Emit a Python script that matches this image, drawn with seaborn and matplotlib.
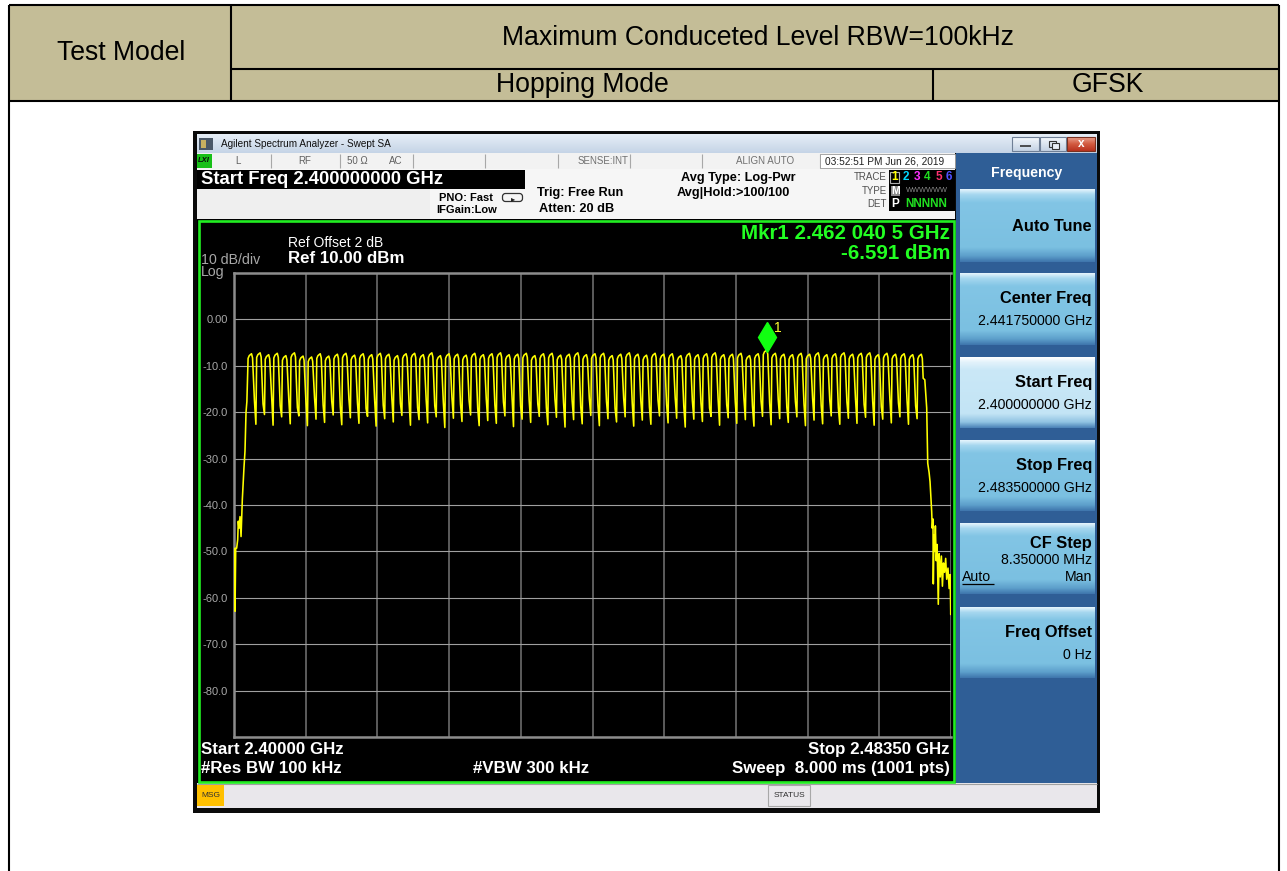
import numpy as np
import pandas as pd
import matplotlib
matplotlib.use("Agg")
import matplotlib.pyplot as plt
from matplotlib.patches import Rectangle, FancyBboxPatch
from matplotlib.colors import to_rgb
from matplotlib import transforms
import seaborn as sns

sns.set_style("white")
plt.rcParams["font.family"] = ["Liberation Sans", "DejaVu Sans"]

# ---------------------------------------------------------------- data
# 79 hopping channels, 1 MHz apart
channel_mhz = list(range(2402, 2481))

# max-hold peak of every channel (dBm)
peak_dbm = [
    -7.4, -7.2, -7.6, -7.3, -7.8, -7.2, -7.9, -8.1, -7.4, -7.9,
    -7.5, -7.3, -7.7, -7.4, -7.6, -7.3, -7.5, -7.8, -7.4, -7.3,
    -7.6, -7.2, -7.8, -7.4, -7.5, -7.7, -7.3, -7.6, -7.4, -7.2,
    -7.6, -7.5, -7.3, -7.8, -7.4, -7.3, -7.7, -7.5, -7.2, -7.6,
    -7.4, -7.3, -7.8, -7.5, -7.2, -7.5, -7.7, -7.3, -7.5, -7.4,
    -7.8, -7.3, -7.6, -7.4, -7.2, -7.6, -7.5, -7.3, -7.8, -7.4,
    -6.591, -7.3, -7.5, -7.6, -7.3, -7.5, -7.2, -7.6, -7.4, -7.2,
    -7.5, -7.3, -7.2, -7.6, -7.3, -7.5, -7.4, -7.6, -7.5,
]

# level of the falling shoulder of each channel (dBm)
shoulder_dbm = [
    -17.5, -18.2, -16.8, -18.6, -17.2, -19.0, -17.8, -16.9, -18.4, -17.6,
    -18.8, -17.1, -18.0, -19.2, -17.4, -18.5, -16.9, -18.1, -17.7, -19.0,
    -17.3, -18.6, -17.9, -16.8, -18.3, -17.5, -19.1, -17.2, -18.4, -17.8,
    -16.9, -18.7, -17.6, -18.2, -19.0, -17.3, -18.0, -17.5, -18.8, -17.1,
    -18.4, -17.7, -19.2, -17.0, -18.1, -17.6, -18.9, -17.4, -18.3, -16.9,
    -18.6, -17.5, -18.0, -19.1, -17.2, -18.4, -17.8, -16.8, -18.7, -17.6,
    -18.1, -17.3, -18.9, -17.7, -18.2, -16.9, -18.5, -17.4, -19.0, -17.8,
    -17.2, -18.3, -17.6, -18.8, -17.1, -18.0, -17.5, -18.6, -17.9,
]

# deepest point between neighbouring channels (dBm)
trough_dbm = [
    -22.6, -20.5, -22.8, -21.0, -22.5, -20.8, -22.9, -21.5, -22.2, -20.6,
    -22.7, -21.2, -22.4, -20.9, -23.0, -21.4, -22.1, -20.7, -22.8, -21.6,
    -22.3, -21.0, -23.3, -21.3, -22.0, -20.6, -22.9, -21.8, -22.4, -20.8,
    -23.1, -21.5, -22.2, -20.9, -22.7, -21.1, -23.2, -21.6, -22.5, -20.7,
    -22.9, -21.4, -22.1, -21.0, -23.0, -21.7, -22.6, -20.8, -22.3, -21.3,
    -23.2, -21.5, -22.0, -20.9, -22.8, -21.2, -22.4, -21.6, -23.0, -20.9,
    -22.7, -21.4, -22.2, -21.0, -22.9, -21.7, -22.5, -20.8, -22.6, -21.3,
    -22.4, -21.1, -22.8, -21.5, -22.3, -21.0, -22.6, -21.4,
]

# band-edge skirts
lower_edge_mhz = [2400.00, 2400.03, 2400.08, 2400.12, 2400.20, 2400.31, 2400.43,
                  2400.50, 2400.58, 2400.70, 2400.82, 2400.97, 2401.16, 2401.28,
                  2401.40, 2401.50]
lower_edge_dbm = [-49.3, -52.8, -49.5, -62.9, -49.3, -49.3, -47.5,
                  -43.5, -45.0, -42.5, -46.8, -38.8, -32.0, -28.4,
                  -20.0, -17.7]
upper_edge_mhz = [2480.45, 2480.67, 2480.79, 2480.95, 2481.06, 2481.25, 2481.32,
                  2481.40, 2481.44, 2481.52, 2481.60, 2481.68, 2481.78, 2481.88,
                  2482.02, 2482.12, 2482.25, 2482.38, 2482.50, 2482.62, 2482.75,
                  2482.88, 2483.00, 2483.15, 2483.28, 2483.40, 2483.47, 2483.50]
upper_edge_dbm = [-13.0, -19.1, -31.0, -33.0, -35.0, -41.4, -45.0,
                  -43.0, -57.0, -46.5, -50.0, -44.5, -52.0, -48.5,
                  -61.4, -50.5, -55.5, -51.0, -57.5, -52.5, -54.5,
                  -51.5, -56.0, -53.6, -58.0, -55.0, -63.6, -61.0]

marker_mhz = 2462.0405
marker_dbm = -6.591

ytick_vals = [10, 0, -10, -20, -30, -40, -50, -60, -70, -80, -90]
ytick_text = ["", "0.00", "-10.0", "-20.0", "-30.0", "-40.0", "-50.0",
              "-60.0", "-70.0", "-80.0", ""]
f_start, f_stop = 2400.0, 2483.5

# ---------------------------------------------------------------- trace
verts = list(zip(lower_edge_mhz, lower_edge_dbm))
last = len(channel_mhz) - 1
for k, (f, pk, sh) in enumerate(zip(channel_mhz, peak_dbm, shoulder_dbm)):
    if k > 0:
        verts.append((f - 0.45, trough_dbm[k - 1]))
    verts += [(f - 0.36, pk - 1.0), (f - 0.22, pk - 0.4), (f + 0.04, pk),
              (f + 0.16, pk - 0.9), (f + 0.26, (pk + sh) / 2)]
    if k < last:
        verts.append((f + 0.38, sh))
verts += list(zip(upper_edge_mhz, upper_edge_dbm))
trace = pd.DataFrame(verts, columns=["freq_mhz", "level_dbm"])

# ---------------------------------------------------------------- canvas
W, H = 1287, 871
fig = plt.figure(figsize=(W / 100, H / 100), dpi=100)
fig.patch.set_facecolor("white")
bg = fig.add_axes([0, 0, 1, 1], zorder=0)
bg.axis("off")


def rect(x0, y0, x1, y1, fc, ec="none", lw=0.0, z=1.0):
    bg.add_patch(Rectangle((x0, y0), x1 - x0, y1 - y0, facecolor=fc,
                           edgecolor=ec, linewidth=lw, zorder=z))


def line(xs, ys, color="black", lw=1.0, z=3.0):
    bg.plot(xs, ys, color=color, lw=lw, zorder=z, solid_capstyle="butt")


def txt(x, y, s, size, color="black", weight="normal", ha="left", z=10, **kw):
    bg.text(x, y, s, fontsize=size, color=color, fontweight=weight,
            ha=ha, va="center", zorder=z, **kw)


def grad(x0, y0, x1, y1, stops, z=1.0):
    pos = np.linspace(0, 1, 96)
    ps = [p for p, _ in stops]
    cols = np.array([to_rgb(c) for _, c in stops])
    img = np.stack([np.interp(pos, ps, cols[:, i]) for i in range(3)], axis=1)
    bg.imshow(img[:, None, :], extent=(x0, x1, y1, y0), aspect="auto",
              interpolation="bilinear", zorder=z)


# ---------------------------------------------------------------- table
tan = "#C4BD97"
rect(9, 5, 1279, 101, tan, z=0.5)
lw_t = 1.5
line([9, 1279], [5, 5], lw=lw_t)
line([9, 1279], [101, 101], lw=lw_t)
line([9, 9], [5, 871], lw=lw_t)
line([1279, 1279], [5, 871], lw=lw_t)
line([231, 231], [5, 101], lw=lw_t)
line([231, 1279], [69, 69], lw=lw_t)
line([933, 933], [69, 101], lw=lw_t)
txt(121, 53, "Test Model", 19.2, ha="center")
txt(758, 38, "Maximum Conduceted Level RBW=100kHz", 19.2, ha="center")
txt(582, 85, "Hopping Mode", 19.2, ha="center")
txt(1108, 85, "GFSK", 19.2, ha="center")

# ---------------------------------------------------------------- analyzer window
rect(193, 131, 1100, 813, "#0a0a0a", z=0.8)

# title bar
grad(197, 134, 1097, 153, [(0, "#e6eef7"), (1, "#c5d4e6")], z=1)
rect(199, 138, 213, 150, "#4a5868", z=2)
rect(201, 140, 206, 148, "#c8b060", z=2.1)
txt(221, 144, "Agilent Spectrum Analyzer - Swept SA", 7.2, color="#101010")
for x0, x1 in [(1012, 1039), (1040, 1066)]:
    grad(x0, 137, x1, 151, [(0, "#f4f8fc"), (1, "#c4d2e4")], z=2)
    rect(x0, 137, x1, 151, "none", ec="#6f7f96", lw=0.8, z=2.2)
line([1020, 1031], [146, 146], color="#333333", lw=1.2, z=3)
rect(1049, 141, 1056, 147, "none", ec="#333333", lw=0.8, z=3)
rect(1052, 143, 1059, 149, "#e8eef6", ec="#333333", lw=0.8, z=3.1)
grad(1067, 137, 1095, 151, [(0, "#eaa28f"), (0.5, "#d25a40"), (1, "#b8321f")], z=2)
rect(1067, 137, 1095, 151, "none", ec="#7a3020", lw=0.8, z=2.2)
txt(1081, 144, "x", 8.5, color="white", weight="bold", ha="center")

# status row
rect(197, 153, 955, 169, "#f2f2f2", z=1)
rect(197, 154, 212, 168, "#18c018", z=2)
txt(198, 161, "LXI", 5.5, color="#0a0a0a", weight="bold", style="italic")
for xs in [271, 340, 413, 485, 558, 630, 702, 820]:
    line([xs, xs], [154, 168], color="#a8a8a8", lw=0.8, z=2)
rect(820, 154, 955, 168, "white", ec="#9a9a9a", lw=0.6, z=2)
txt(235, 161, "L", 7, color="#606060")
txt(305, 161, "RF", 7, color="#606060", ha="center")
txt(357, 161, "50 Ω", 7, color="#606060", ha="center")
txt(396, 161, "AC", 7, color="#606060", ha="center")
txt(628, 161, "SENSE:INT", 7, color="#707070", ha="right")
txt(765, 161, "ALIGN AUTO", 7, color="#707070", ha="center")
txt(885, 161, "03:52:51 PM Jun 26, 2019", 7.3, color="#202020", ha="center")

# settings area
rect(197, 169, 955, 219, "#f6f6f6", z=1)
rect(197, 188, 430, 219, "#efefef", z=1.1)
rect(197, 170, 525, 189, "black", z=2)
txt(201, 179.5, "Start Freq 2.400000000 GHz", 13.3, color="white", weight="bold")
txt(493, 198, "PNO: Fast", 8, weight="bold", ha="right")
txt(497, 210, "IFGain:Low", 8, weight="bold", ha="right")
bg.add_patch(FancyBboxPatch((503, 194), 19, 7, boxstyle="round,pad=0.5,rounding_size=3",
                            facecolor="none", edgecolor="#333333", lw=0.9, zorder=3))
txt(513, 199, "▸", 6, color="#222222", ha="center", family=["DejaVu Sans"])
txt(537, 193, "Trig: Free Run", 9.2, weight="bold")
txt(539, 209, "Atten: 20 dB", 9.2, weight="bold")
txt(738, 178, "Avg Type: Log-Pwr", 9.2, weight="bold", ha="center")
txt(733, 193, "Avg|Hold:>100/100", 9.2, weight="bold", ha="center")
txt(887, 177, "TRACE", 7, color="#505050", ha="right")
txt(887, 191, "TYPE", 7, color="#505050", ha="right")
txt(887, 204, "DET", 7, color="#505050", ha="right")
rect(889, 170, 955, 211, "black", z=2)
rect(890, 172, 899, 183, "none", ec="#b0b0b0", lw=0.8, z=3)
for x, d, c in zip([895, 906, 917, 927.5, 938.5, 949],
                   ["1", "2", "3", "4", "5", "6"],
                   ["#ffff00", "#00d8ff", "#ff30ff", "#20e020", "#ff3070", "#5050ff"]):
    txt(x, 177.5, d, 8.5, color=c, weight="bold", ha="center")
rect(891, 186, 900, 196, "#8a8a8a", z=3)
txt(895.5, 191, "M", 7.5, color="white", weight="bold", ha="center")
txt(927, 191, "WWWWWW", 5.3, color="#8a8a8a", ha="center")
txt(895.5, 204, "P", 8.5, color="white", weight="bold", ha="center")
txt(926, 204, "NNNNN", 8.5, color="#20e020", weight="bold", ha="center")

# graticule background with green frame
rect(197, 219, 956, 783, "black", z=1)
rect(198.5, 220.5, 953.5, 781.5, "none", ec="#22ee22", lw=1.9, z=6)
txt(288, 243, "Ref Offset 2 dB", 10, color="white")
txt(288, 258.5, "Ref 10.00 dBm", 12.2, color="white", weight="bold")
txt(201, 259.5, "10 dB/div", 10.2, color="#a8a8a8")
txt(201, 272, "Log", 10.2, color="#a8a8a8")
txt(950, 233, "Mkr1 2.462 040 5 GHz", 14.8, color="#22ff22", weight="bold", ha="right")
txt(950, 253, "-6.591 dBm", 14.8, color="#22ff22", weight="bold", ha="right")
txt(201, 749, "Start 2.40000 GHz", 12.2, color="white", weight="bold")
txt(201, 768.5, "#Res BW 100 kHz", 12.2, color="white", weight="bold")
txt(473, 768.5, "#VBW 300 kHz", 12.2, color="white", weight="bold")
txt(950, 749, "Stop 2.48350 GHz", 12.2, color="white", weight="bold", ha="right")
txt(950, 768.5, "Sweep  8.000 ms (1001 pts)", 12.2, color="white", weight="bold", ha="right")

# soft-key panel
rect(956, 153, 1097, 783, "#2f5e96", z=1)
txt(1027, 172.5, "Frequency", 10.2, color="white", weight="bold", ha="center")
normal = [(0, "#e4f4fc"), (0.07, "#a6d7ef"), (0.18, "#82c5e5"), (0.80, "#7bc0e1"),
          (0.92, "#5d9fcb"), (1.0, "#3f76ad")]
picked = [(0, "#ffffff"), (0.07, "#e2f2fb"), (0.18, "#cae8f7"), (0.80, "#c3e4f5"),
          (0.92, "#90c3e2"), (1.0, "#4c83b8")]
keys = [("Auto Tune", None, 190, 262, False),
        ("Center Freq", "2.441750000 GHz", 273, 345, False),
        ("Start Freq", "2.400000000 GHz", 357, 428, True),
        ("Stop Freq", "2.483500000 GHz", 440, 511, False),
        ("CF Step", "8.350000 MHz", 523, 594, False),
        ("Freq Offset", "0 Hz", 607, 678, False)]
for title, value, y0, y1, sel in keys:
    grad(960, y0, 1095, y1, picked if sel else normal, z=2)
    if value is None:
        txt(1092, (y0 + y1) / 2, title, 11.8, weight="bold", ha="right")
    elif title == "CF Step":
        txt(1092, y0 + 20, title, 11.8, weight="bold", ha="right")
        txt(1092, y0 + 37, value, 10.2, ha="right")
        txt(1092, y0 + 54, "Man", 10.2, ha="right")
        txt(962, y0 + 54, "Auto", 10.2)
        line([962, 994], [y0 + 61, y0 + 61], color="black", lw=0.9, z=4)
    else:
        txt(1092, y0 + 25, title, 11.8, weight="bold", ha="right")
        txt(1092, y0 + 48, value, 10.2, ha="right")

# message bar
rect(197, 783, 1097, 808, "#e9e7eb", z=1)
line([197, 1097], [783.5, 783.5], color="#a0a0a0", lw=0.8, z=2)
rect(197, 785, 224, 806, "#ffc000", z=2)
txt(210.5, 795.5, "MSG", 6, color="#303030", ha="center")
rect(768, 785, 810, 806, "none", ec="#a8a8a8", lw=0.8, z=2)
txt(789, 795.5, "STATUS", 6, color="#303030", ha="center")

bg.set_xlim(0, W)
bg.set_ylim(H, 0)

# ---------------------------------------------------------------- spectrum
ax = fig.add_axes([234 / W, 1 - 737 / H, (951 - 234) / W, (737 - 273) / H], zorder=5)
ax.set_facecolor("black")
sns.lineplot(data=trace, x="freq_mhz", y="level_dbm", sort=False, estimator=None,
             color="#ffff00", lw=1.15, ax=ax, zorder=4)
ax.set_xlim(f_start, f_stop)
ax.set_ylim(-90, 10)
ax.set_xticks(np.linspace(f_start, f_stop, 11))
ax.set_xticklabels([])
ax.set_yticks(ytick_vals)
ax.set_yticklabels(ytick_text)
ax.set_xlabel("")
ax.set_ylabel("")
ax.tick_params(length=0, pad=4.5, labelsize=8, labelcolor="#a8a8a8")
ax.grid(axis="y", color="#a0a0a0", lw=0.8, zorder=1)
ax.grid(axis="x", color="#5c5c5c", lw=1.4, zorder=1)
ax.set_axisbelow(True)
for side in ["top", "left", "bottom"]:
    ax.spines[side].set_color("#8c8c8c")
    ax.spines[side].set_linewidth(1.8)
ax.spines["right"].set_visible(False)

# marker 1
mk_tr = transforms.offset_copy(ax.transData, fig=fig, x=0, y=12.8, units="dots")
ax.plot([marker_mhz], [marker_dbm], marker="d", ms=15.6, color="#11ff11",
        mec="#11ff11", transform=mk_tr, zorder=6, clip_on=False)
lbl_tr = transforms.offset_copy(ax.transData, fig=fig, x=11, y=22, units="dots")
ax.text(marker_mhz, marker_dbm, "1", transform=lbl_tr, color="#ffff30",
        fontsize=10, ha="center", va="center", zorder=6)

fig.savefig("out.png", dpi=100)
